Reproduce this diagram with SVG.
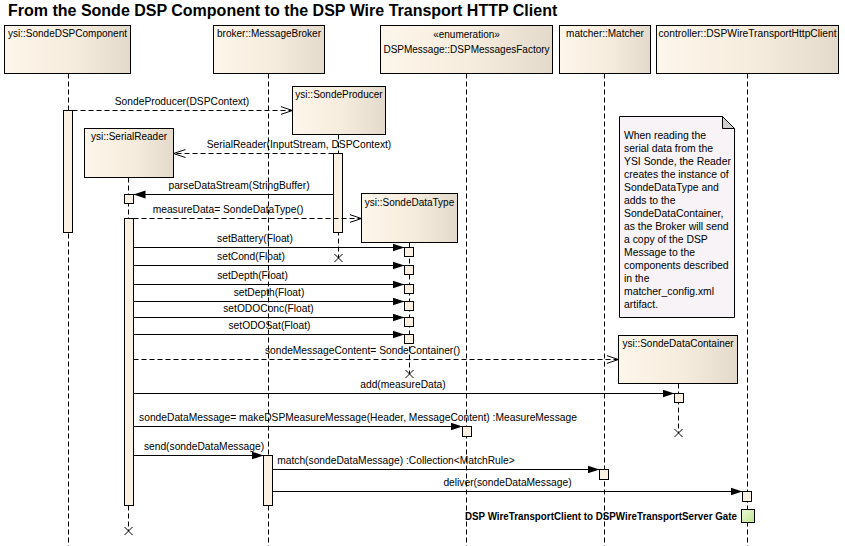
<svg xmlns="http://www.w3.org/2000/svg" width="845" height="546" viewBox="0 0 845 546">
<style>
text{font-family:"Liberation Sans",Arial,sans-serif;font-size:10.25px;fill:#000}
.title{font-size:16px;font-weight:bold}
.hn{font-size:10px}
.hdr{fill:url(#hg);stroke:#000;stroke-width:1}
.act{fill:#FBF1E3;stroke:#000;stroke-width:1}
.life{stroke:#000;stroke-width:1;stroke-dasharray:5,3;fill:none}
.msg{stroke:#000;stroke-width:1;fill:none}
.sync{marker-end:url(#filled)}
.ret{stroke-dasharray:5,3;marker-end:url(#open)}
.x{stroke:#000;stroke-width:1;fill:none}
.c{text-anchor:middle}
.note text{font-size:10.4px}
</style>
<defs>
<linearGradient id="hg" x1="0" y1="0" x2="1" y2="0">
<stop offset="0" stop-color="#FDF6EA"/>
<stop offset="0.55" stop-color="#F6ECDD"/>
<stop offset="1" stop-color="#E4DACB"/>
</linearGradient>
<linearGradient id="gg" x1="0" y1="0" x2="1" y2="1">
<stop offset="0" stop-color="#EEFAD8"/>
<stop offset="1" stop-color="#BFE391"/>
</linearGradient>
<marker id="filled" markerWidth="13" markerHeight="9" refX="12" refY="4.5" orient="auto" markerUnits="userSpaceOnUse">
<path d="M0,0.5 L12,4.5 L0,8.5 Z" fill="#000" stroke="none"/>
</marker>
<marker id="open" markerWidth="14" markerHeight="10" refX="12" refY="5" orient="auto" markerUnits="userSpaceOnUse">
<path d="M0,1 L12,5 L0,9" fill="none" stroke="#000" stroke-width="1" stroke-dasharray="none"/>
</marker>
</defs>
<rect width="845" height="546" fill="#fff"/>
<text class="title" x="8" y="16">From the Sonde DSP Component to the DSP Wire Transport HTTP Client</text>

<g id="sondeDSPComponent">
<line class="life" x1="68.5" y1="73.5" x2="68.5" y2="546"/>
<rect class="hdr" x="4.5" y="25.5" width="126" height="48"/>
<text class="c hn" x="67.5" y="37">ysi::SondeDSPComponent</text>
<rect class="act" x="63.5" y="110.5" width="9" height="122"/>
</g>

<g id="messageBroker">
<line class="life" x1="268.5" y1="73.5" x2="268.5" y2="546"/>
<rect class="hdr" x="213.5" y="25.5" width="111" height="48"/>
<text class="c hn" x="269" y="37">broker::MessageBroker</text>
<rect class="act" x="263.5" y="455.5" width="9" height="50"/>
</g>

<g id="dspMessagesFactory">
<line class="life" x1="466.5" y1="73.5" x2="466.5" y2="546"/>
<rect class="hdr" x="380.5" y="25.5" width="172" height="48"/>
<text class="c hn" x="466.5" y="38">«enumeration»</text>
<text class="c hn" x="466.5" y="53">DSPMessage::DSPMessagesFactory</text>
<rect class="act" x="462.5" y="426.5" width="9" height="10"/>
</g>

<g id="matcher">
<line class="life" x1="604.5" y1="73.5" x2="604.5" y2="546"/>
<rect class="hdr" x="559.5" y="25.5" width="91" height="48"/>
<text class="c hn" x="605" y="37">matcher::Matcher</text>
<rect class="act" x="599.5" y="469.5" width="9" height="10"/>
</g>

<g id="httpClient">
<line class="life" x1="747.5" y1="73.5" x2="747.5" y2="546"/>
<rect class="hdr" x="656.5" y="25.5" width="182" height="48"/>
<text class="c hn" x="747.5" y="37" textLength="178" lengthAdjust="spacingAndGlyphs">controller::DSPWireTransportHttpClient</text>
<rect class="act" x="742.5" y="491.5" width="9" height="10"/>
<rect x="741.5" y="509.5" width="13" height="13" fill="url(#gg)" stroke="#000"/>
<text x="737" y="520" text-anchor="end" font-weight="bold" textLength="272" lengthAdjust="spacingAndGlyphs">DSP WireTransportClient to DSPWireTransportServer Gate</text>
</g>

<g id="sondeProducer">
<line class="life" x1="338.5" y1="134.5" x2="338.5" y2="258"/>
<rect class="hdr" x="292.5" y="86.5" width="93" height="48"/>
<text class="c hn" x="339" y="98">ysi::SondeProducer</text>
<rect class="act" x="333.5" y="153.5" width="9" height="79"/>
<path class="x" d="M334.5,254 L342.5,262 M342.5,254 L334.5,262"/>
</g>

<g id="serialReader">
<line class="life" x1="128.5" y1="177.5" x2="128.5" y2="531"/>
<rect class="hdr" x="84.5" y="128.5" width="89" height="49"/>
<text class="c hn" x="129" y="140">ysi::SerialReader</text>
<rect class="act" x="124.5" y="194.5" width="9" height="9"/>
<rect class="act" x="124.5" y="218.5" width="9" height="287"/>
<path class="x" d="M124.5,527 L132.5,535 M132.5,527 L124.5,535"/>
</g>

<g id="sondeDataType">
<line class="life" x1="409.5" y1="242.5" x2="409.5" y2="374"/>
<rect class="hdr" x="361.5" y="193.5" width="96" height="49"/>
<text class="c hn" x="409.5" y="206">ysi::SondeDataType</text>
<rect class="act" x="404.5" y="247.5" width="9" height="9"/>
<rect class="act" x="404.5" y="265.5" width="9" height="9"/>
<rect class="act" x="404.5" y="284.5" width="9" height="9"/>
<rect class="act" x="404.5" y="301.5" width="9" height="9"/>
<rect class="act" x="404.5" y="317.5" width="9" height="9"/>
<rect class="act" x="404.5" y="334.5" width="9" height="9"/>
<path class="x" d="M405.5,370 L413.5,378 M413.5,370 L405.5,378"/>
</g>

<g id="sondeDataContainer">
<line class="life" x1="678.5" y1="383.5" x2="678.5" y2="433"/>
<rect class="hdr" x="618.5" y="335.5" width="119" height="48"/>
<text class="c hn" x="678" y="347">ysi::SondeDataContainer</text>
<rect class="act" x="674.5" y="393.5" width="9" height="9"/>
<path class="x" d="M674.5,429 L682.5,437 M682.5,429 L674.5,437"/>
</g>

<g id="note" class="note">
<path d="M619.5,116.5 L722.5,116.5 L734.5,128.5 L734.5,317.5 L619.5,317.5 Z" fill="#F7F3F7" stroke="#000"/>
<path d="M722.5,116.5 L722.5,128.5 L734.5,128.5 Z" fill="#CFCFCF" stroke="#000"/>
<text x="624" y="139">When reading the</text>
<text x="624" y="152">serial data from the</text>
<text x="624" y="165">YSI Sonde, the Reader</text>
<text x="624" y="178">creates the instance of</text>
<text x="624" y="191">SondeDataType and</text>
<text x="624" y="204">adds to the</text>
<text x="624" y="217">SondeDataContainer,</text>
<text x="624" y="230">as the Broker will send</text>
<text x="624" y="243">a copy of the DSP</text>
<text x="624" y="256">Message to the</text>
<text x="624" y="269">components described</text>
<text x="624" y="282">in the</text>
<text x="624" y="295">matcher_config.xml</text>
<text x="624" y="308">artifact.</text>
</g>

<g id="connectors">
<line class="msg ret" x1="72.5" y1="110.5" x2="292.5" y2="110.5"/>
<text class="c" x="182" y="105">SondeProducer(DSPContext)</text>
<line class="msg ret" x1="333.5" y1="153.5" x2="173.5" y2="153.5"/>
<text class="c" x="299" y="148">SerialReader(InputStream, DSPContext)</text>
<line class="msg sync" x1="333.5" y1="194.5" x2="133.5" y2="194.5"/>
<text class="c" x="239" y="189">parseDataStream(StringBuffer)</text>
<line class="msg ret" x1="133.5" y1="218.5" x2="361.5" y2="218.5"/>
<text class="c" x="228" y="213">measureData= SondeDataType()</text>
<line class="msg sync" x1="133.5" y1="247.5" x2="404.5" y2="247.5"/>
<text class="c" x="255" y="242">setBattery(Float)</text>
<line class="msg sync" x1="133.5" y1="265.5" x2="404.5" y2="265.5"/>
<text class="c" x="251" y="260">setCond(Float)</text>
<line class="msg sync" x1="133.5" y1="284.5" x2="404.5" y2="284.5"/>
<text class="c" x="252.5" y="279">setDepth(Float)</text>
<line class="msg sync" x1="133.5" y1="301.5" x2="404.5" y2="301.5"/>
<text class="c" x="269" y="296">setDepth(Float)</text>
<line class="msg sync" x1="133.5" y1="317.5" x2="404.5" y2="317.5"/>
<text class="c" x="268.5" y="312">setODOConc(Float)</text>
<line class="msg sync" x1="133.5" y1="334.5" x2="404.5" y2="334.5"/>
<text class="c" x="269.5" y="329">setODOSat(Float)</text>
<line class="msg ret" x1="133.5" y1="359.5" x2="618.5" y2="359.5"/>
<text class="c" x="362.5" y="354">sondeMessageContent= SondeContainer()</text>
<line class="msg sync" x1="133.5" y1="393.5" x2="674.5" y2="393.5"/>
<text class="c" x="403" y="388">add(measureData)</text>
<line class="msg sync" x1="133.5" y1="426.5" x2="462.5" y2="426.5"/>
<text class="c" x="358" y="421">sondeDataMessage= makeDSPMeasureMessage(Header, MessageContent) :MeasureMessage</text>
<line class="msg sync" x1="133.5" y1="455.5" x2="263.5" y2="455.5"/>
<text class="c" x="204" y="450">send(sondeDataMessage)</text>
<line class="msg sync" x1="272.5" y1="469.5" x2="599.5" y2="469.5"/>
<text class="c" x="396" y="464">match(sondeDataMessage) :Collection&lt;MatchRule&gt;</text>
<line class="msg sync" x1="272.5" y1="491.5" x2="742.5" y2="491.5"/>
<text class="c" x="507.5" y="486">deliver(sondeDataMessage)</text>
</g>
</svg>
